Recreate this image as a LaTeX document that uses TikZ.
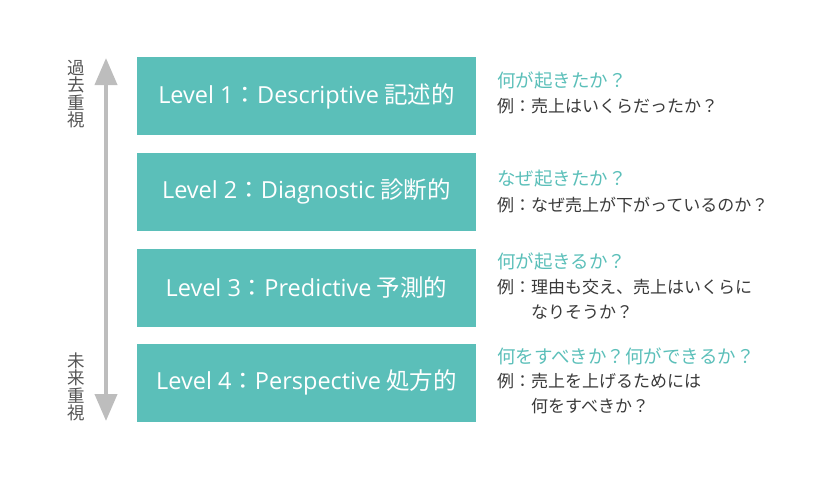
\documentclass[tikz,border=0pt]{standalone}
\usepackage{fontspec}
\setmainfont{Noto Sans CJK JP}
\newfontfamily\latinfont{Open Sans}
\usetikzlibrary{arrows.meta,positioning}
\definecolor{LevelClr}{HTML}{5BBFB9}
\definecolor{AskClr}{HTML}{5BBFB9}
\definecolor{TextClr}{HTML}{3A3A3A}
\definecolor{ArrowClr}{HTML}{BDBDBD}
\definecolor{SideClr}{HTML}{555555}

\begin{document}
\begin{tikzpicture}[x=1pt,y=-1pt,
  levelbox/.style={fill=LevelClr,text=white,minimum width=339pt,minimum height=78pt,inner sep=0pt,font=\fontsize{23.5}{23.5}\selectfont},
  ask/.style={anchor=west,text=AskClr,inner sep=0pt,font=\fontsize{18.5}{18.5}\selectfont},
  example/.style={anchor=west,text=TextClr,inner sep=0pt,align=left,font=\fontsize{17}{25}\selectfont},
  side/.style={text=SideClr,inner sep=0pt,align=center,font=\fontsize{17.5}{17.5}\selectfont},
  timeline/.style={draw=ArrowClr,line width=4pt,{Triangle[width=22pt,length=27pt]}-{Triangle[width=22pt,length=27pt]}}]
\useasboundingbox (0,0) rectangle (840,480);

\node[levelbox] (L1) at (306.5,96) {{\latinfont Level 1}：{\latinfont Descriptive} 記述的};
\node[levelbox] (L2) at (306.5,191.5) {{\latinfont Level 2}：{\latinfont Diagnostic} 診断的};
\node[levelbox] (L3) at (306.5,287.5) {{\latinfont Level 3}：{\latinfont Predictive} 予測的};
\node[levelbox] (L4) at (306.5,382.5) {{\latinfont Level 4}：{\latinfont Perspective} 処方的};

\node[ask] (Q1) at (497,80) {何が起きたか？};
\node[example] (E1) at (497,106) {例：売上はいくらだったか？};
\node[ask] (Q2) at (497,179) {なぜ起きたか？};
\node[example] (E2) at (497,205) {例：なぜ売上が下がっているのか？};
\node[ask] (Q3) at (497,261) {何が起きるか？};
\node[example] (E3) at (497,299.5) {例：理由も交え、売上はいくらに\\\hspace*{2em}なりそうか？};
\node[ask] (Q4) at (497,356) {何をすべきか？何ができるか？};
\node[example] (E4) at (497,394) {例：売上を上げるためには\\\hspace*{2em}何をすべきか？};

\coordinate (past) at (106,58);
\coordinate (future) at (106,421);
\draw[timeline] (past) -- (future);

\node[side] (PastLbl) at (76,94) {過\\去\\重\\視};
\node[side] (FutureLbl) at (76,387) {未\\来\\重\\視};

\end{tikzpicture}
\end{document}
